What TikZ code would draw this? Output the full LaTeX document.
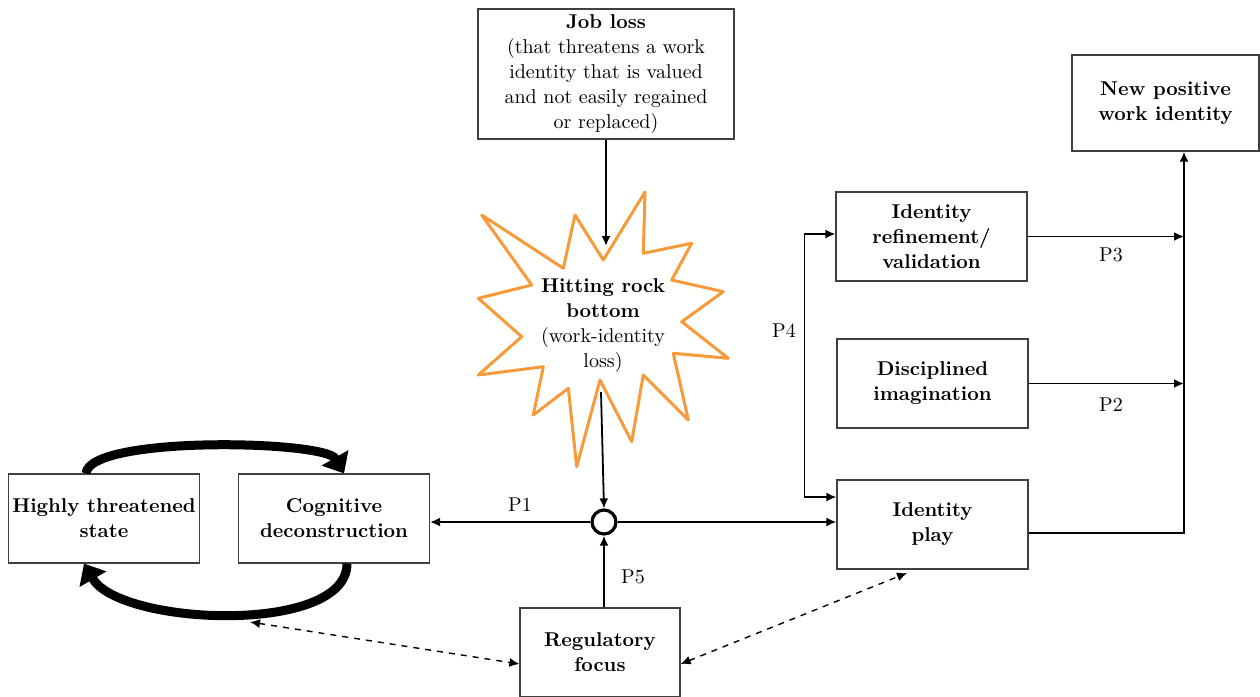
\documentclass[tikz,border=0pt]{standalone}
\usepackage{tikz}
\usetikzlibrary{arrows.meta,calc}
\tikzset{
  block/.style={draw=black!75, line width=0.6pt, align=center, minimum width=95.5pt,
    minimum height=44.5pt, inner sep=2pt, font=\fontsize{10}{12.5}\selectfont},
  title/.style={block, font=\fontsize{10}{12.5}\selectfont\bfseries},
  link/.style={->, line width=0.9pt},
  assoc/.style={<->, dashed, line width=0.7pt},
  cycle/.style={-{Triangle[length=9pt,width=15pt]}, line width=4.5pt},
  burst/.style={draw={rgb,255:red,247;green,154;blue,58}, line width=1.5pt, line join=round},
  plabel/.style={font=\fontsize{10}{12}\selectfont}
}
\begin{document}
\begin{tikzpicture}[x=0.5pt, y=-0.5pt, >={Latex[length=5pt,width=4.5pt]}]
  \useasboundingbox (0,0) rectangle (1260,697);

  % boxes
  \node[block, minimum width=128pt, minimum height=65pt] (jobloss) at (606,74)
    {\textbf{Job loss}\\(that threatens a work\\identity that is valued\\and not easily regained\\or replaced)};
  \node[title, minimum width=93.5pt, minimum height=48pt] (newid) at (1165.5,103) {New positive\\work identity};
  \node[title] (refine) at (931.5,236.5) {Identity\\refinement/\\validation};
  \node[title] (discip) at (932.5,383.5) {Disciplined\\imagination};
  \node[title] (play) at (932.5,524.5) {Identity\\play};
  \node[title] (threat) at (104,518.5) {Highly threatened\\state};
  \node[title] (cog) at (334,518.5) {Cognitive\\deconstruction};
  \node[title, minimum width=80pt] (regfocus) at (600,652.5) {Regulatory\\focus};
  \node[draw, circle, line width=1.6pt, minimum size=12pt, inner sep=0pt] (hub) at (604,522) {};

  % starburst
  \draw[burst] (481.7,215) -- (563.3,268.3) -- (575,215) -- (603.3,260) -- (645,192)
    -- (643.3,253.3) -- (691.7,243.3) -- (671.7,280) -- (723.3,291.7) -- (681.7,321.7)
    -- (728.3,358.3) -- (673.3,353.3) -- (688.3,420) -- (643.3,375) -- (631.7,441.7)
    -- (600,380) -- (576.7,466.7) -- (568.3,388.3) -- (533.3,415) -- (543.3,366.7)
    -- (478.3,375) -- (521.7,336.7) -- (478.3,298.3) -- (531.7,285) -- cycle;
  \node[align=center, font=\fontsize{10}{12.5}\selectfont] (rockbottom) at (603,325.5)
    {\textbf{Hitting rock}\\\textbf{bottom}\\(work-identity\\loss)};
  \coordinate (burstin) at (606,246);
  \coordinate (burstout) at (601,392);
  \coordinate (join) at (1184,533);
  \coordinate (cogbelow) at (250,622);
  \coordinate (playbelow) at (907,573);

  % connectors
  \draw[link] (jobloss.south) -- (burstin);
  \draw[link] (burstout) -- (hub.north);
  \draw[link] (hub.west) -- (hub.west -| cog.east);
  \draw[link] (hub.east) -- (hub.east -| play.west);
  \draw[link] (hub.south |- regfocus.north) -- (hub.south);
  \draw[<->, line width=0.9pt] ($(refine.west)+(0,-2.5)$) -- ++(-31,0) |- ($(play.west)+(0,-27.5)$);
  \draw[link] (refine.east) -- (refine.east -| join);
  \draw[link] (discip.east) -- (discip.east -| join);
  \draw[link] ([yshift=-4.25pt]play.east) -| (join |- newid.south);
  \draw[assoc] (cogbelow) -- ([yshift=-5.75pt]regfocus.west);
  \draw[assoc] ([yshift=-5.75pt]regfocus.east) -- (playbelow);

  % loop
  \draw[cycle] ([xshift=-9pt]threat.north) to[out=85, in=120, looseness=0.38] ([xshift=5pt]cog.north);
  \draw[cycle] ([xshift=6.5pt]cog.south) to[out=-90, in=-60, looseness=0.7] ([xshift=-10pt]threat.south);

  % labels
  \node[plabel] (pone) at (520,505) {P1};
  \node[plabel] (ptwo) at (1111,405) {P2};
  \node[plabel] (pthree) at (1111,255) {P3};
  \node[plabel] (pfour) at (784,331) {P4};
  \node[plabel] (pfive) at (633,577) {P5};
\end{tikzpicture}
\end{document}
